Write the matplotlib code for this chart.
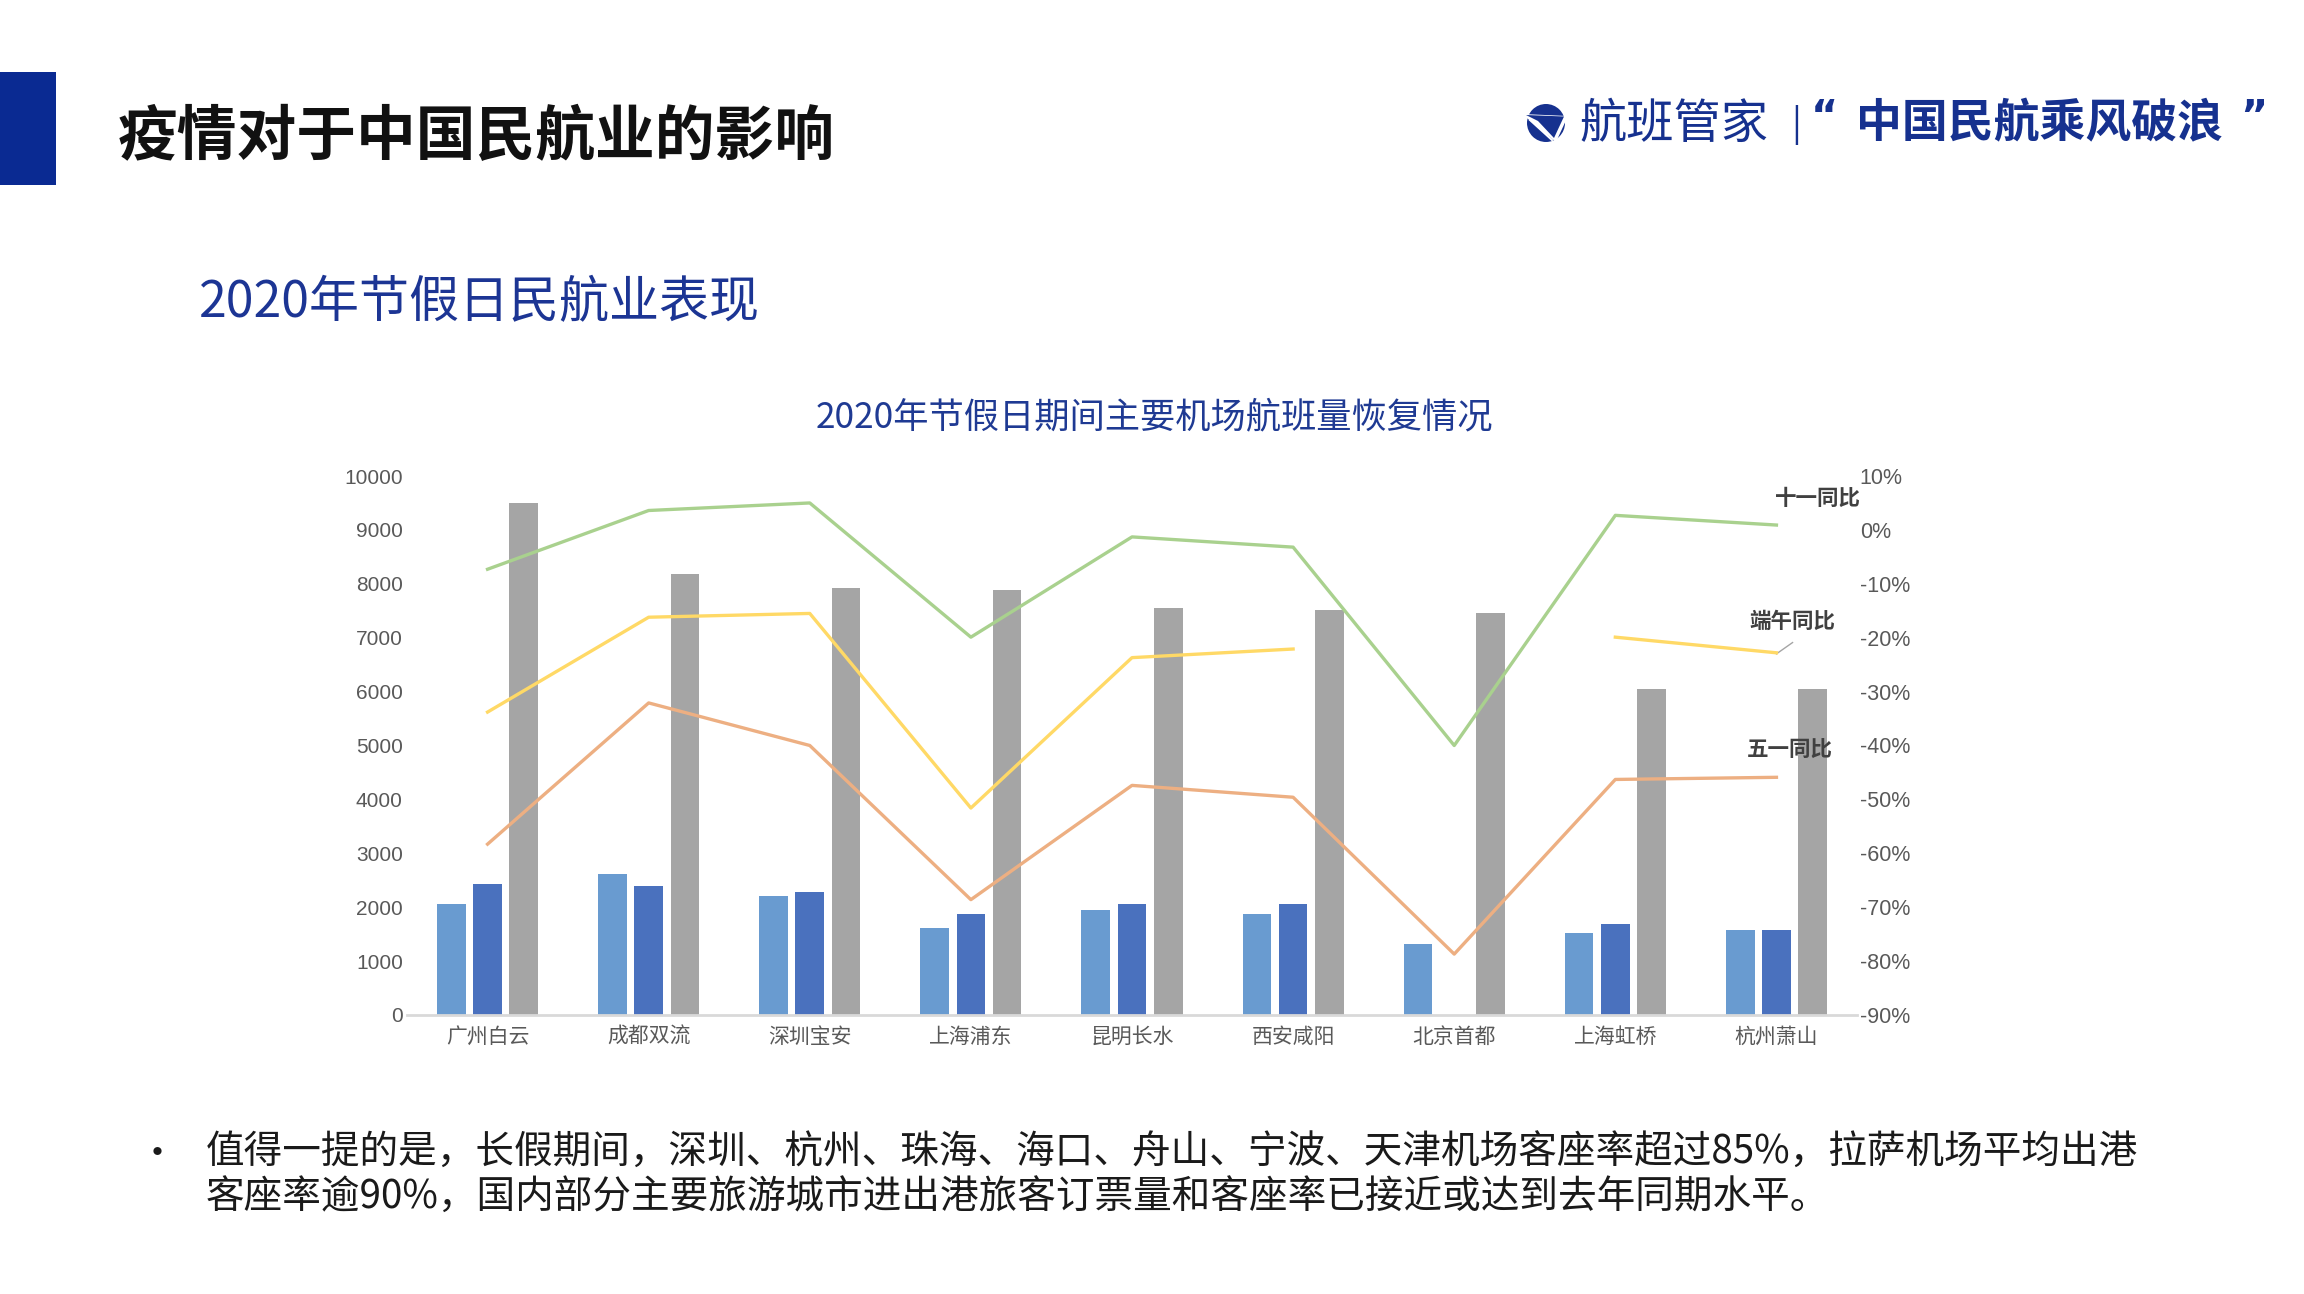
import numpy as np
import matplotlib
matplotlib.use('Agg')
import matplotlib.pyplot as plt
from matplotlib.patches import Rectangle, Circle, Polygon

CJK = ['Noto Sans CJK SC', 'DejaVu Sans']
NUM = ['Liberation Sans', 'Noto Sans CJK SC']
plt.rcParams['font.family'] = CJK
plt.rcParams['axes.unicode_minus'] = False

# data
airports = ['广州白云', '成都双流', '深圳宝安', '上海浦东', '昆明长水',
            '西安咸阳', '北京首都', '上海虹桥', '杭州萧山']
flights_may = [2060, 2610, 2200, 1610, 1940, 1870, 1310, 1530, 1570]
flights_dragon = [2430, 2390, 2280, 1870, 2060, 2060, np.nan, 1680, 1570]
flights_oct = [9490, 8190, 7930, 7890, 7560, 7520, 7450, 6040, 6040]
yoy_may = [-58.3, -32.1, -40.0, -68.6, -47.4, -49.6, -78.7, -46.3, -45.9]
yoy_dragon = [-33.8, -16.2, -15.5, -51.6, -23.7, -22.1, np.nan, -19.9, -22.8]
yoy_oct = [-7.3, 3.6, 5.0, -19.9, -1.3, -3.2, -40.0, 2.7, 0.9]
left_ticks = list(range(0, 10001, 1000))
right_ticks = list(range(-90, 11, 10))

W, H = 2304, 1294


def fx(x):
    return x / W


def fy(y):
    return 1 - y / H


fig = plt.figure(figsize=(W / 100, H / 100), dpi=100)
fig.patch.set_facecolor('white')

# header
fig.add_artist(Rectangle((0, fy(185)), fx(56), 113 / H, transform=fig.transFigure,
                         color='#0A2A92', lw=0))
fig.text(fx(118), fy(138), '疫情对于中国民航业的影响', fontsize=43, fontweight='bold',
         color='#111111', va='center', ha='left')
fig.text(fx(199), fy(303), '2020年节假日民航业表现', fontsize=36, color='#1C3594',
         va='center', ha='left')

# logo
logo_blue = '#16318F'
lax = fig.add_axes([fx(1520), fy(148), 52 / W, 52 / H])
lax.set_xlim(0, 52)
lax.set_ylim(0, 52)
lax.set_aspect('equal')
lax.axis('off')
lax.add_patch(Circle((26, 25), 19, color=logo_blue, lw=0))
lax.add_patch(Polygon([[2, 34], [48, 32], [36, 6]], closed=True, fc='white', lw=0))
lax.add_patch(Polygon([[6, 33], [44, 31.5], [34, 10], [18, 27]], closed=True, fc=logo_blue, lw=0))
lax.plot([10, 32], [28, 8], color='white', lw=1.5)

fig.text(fx(1579), fy(125), '航班管家', fontsize=34, fontweight='medium', color=logo_blue,
         va='center', ha='left')
fig.text(fx(1796), fy(125), '|', fontsize=26, color=logo_blue, va='center', ha='center')
fig.text(fx(1838), fy(118), '“', fontsize=30, fontweight='bold', family='DejaVu Sans',
         color=logo_blue, va='center', ha='right')
fig.text(fx(2040), fy(124), '中国民航乘风破浪', fontsize=33, fontweight='bold',
         color=logo_blue, va='center', ha='center')
fig.text(fx(2240), fy(118), '”', fontsize=30, fontweight='bold', family='DejaVu Sans',
         color=logo_blue, va='center', ha='left')

# chart title
fig.text(fx(1154), fy(417), '2020年节假日期间主要机场航班量恢复情况', fontsize=25.4,
         color='#1F3A93', va='center', ha='center')

# chart
ax = fig.add_axes([fx(407), fy(1015), 1450 / W, (1015 - 476) / H])
x = np.arange(len(airports))
bw = 0.178
off = 0.225
ax.bar(x - off, flights_may, bw, color='#699BD0', zorder=2)
ax.bar(x, flights_dragon, bw, color='#4A71BE', zorder=2)
ax.bar(x + off, flights_oct, bw, color='#A5A5A5', zorder=2)
ax.set_xlim(-0.5, len(airports) - 0.5)
ax.set_ylim(0, 10000)
ax.set_yticks(left_ticks)
ax.set_yticklabels([str(v) for v in left_ticks], family=NUM, fontsize=15, color='#595959')
ax.set_xticks(x)
ax.set_xticklabels(airports, fontsize=15, color='#595959')
ax.tick_params(axis='both', length=0)
ax.tick_params(axis='y', pad=3)
ax.tick_params(axis='x', pad=8)
for s in ['top', 'right', 'left']:
    ax.spines[s].set_visible(False)
ax.spines['bottom'].set_color('#D9D9D9')
ax.spines['bottom'].set_linewidth(2)

ax2 = ax.twinx()
ax2.plot(x, yoy_oct, color='#A9D18E', lw=2.4, zorder=3)
ax2.plot(x, yoy_dragon, color='#FFD966', lw=2.4, zorder=3)
ax2.plot(x, yoy_may, color='#EDAF82', lw=2.4, zorder=3)
ax2.set_ylim(-90, 10)
ax2.set_yticks(right_ticks)
ax2.set_yticklabels([f'{v}%' for v in right_ticks], family=NUM, fontsize=15.5, color='#595959')
ax2.tick_params(axis='y', length=0, pad=2)
for s in ['top', 'right', 'left', 'bottom']:
    ax2.spines[s].set_visible(False)

lab = dict(fontsize=15.5, fontweight='bold', color='#404040', ha='center', va='center')
ax2.text(8.26, 5.9, '十一同比', **lab)
ax2.text(8.10, -16.9, '端午同比', **lab)
ax2.text(8.08, -40.9, '五一同比', **lab)
ax2.plot([8.0, 8.10], [-23.0, -20.9], color='#A5A5A5', lw=1)

# note below
fig.text(fx(157), fy(1155), '•', fontsize=28, color='#1A1A1A', va='center', ha='center')
fig.text(fx(206), fy(1153),
         '值得一提的是，长假期间，深圳、杭州、珠海、海口、舟山、宁波、天津机场客座率超过85%，拉萨机场平均出港',
         fontsize=27.8, color='#1A1A1A', va='center', ha='left')
fig.text(fx(206), fy(1198),
         '客座率逾90%，国内部分主要旅游城市进出港旅客订票量和客座率已接近或达到去年同期水平。',
         fontsize=27.8, color='#1A1A1A', va='center', ha='left')

fig.savefig('out.png', dpi=100)
